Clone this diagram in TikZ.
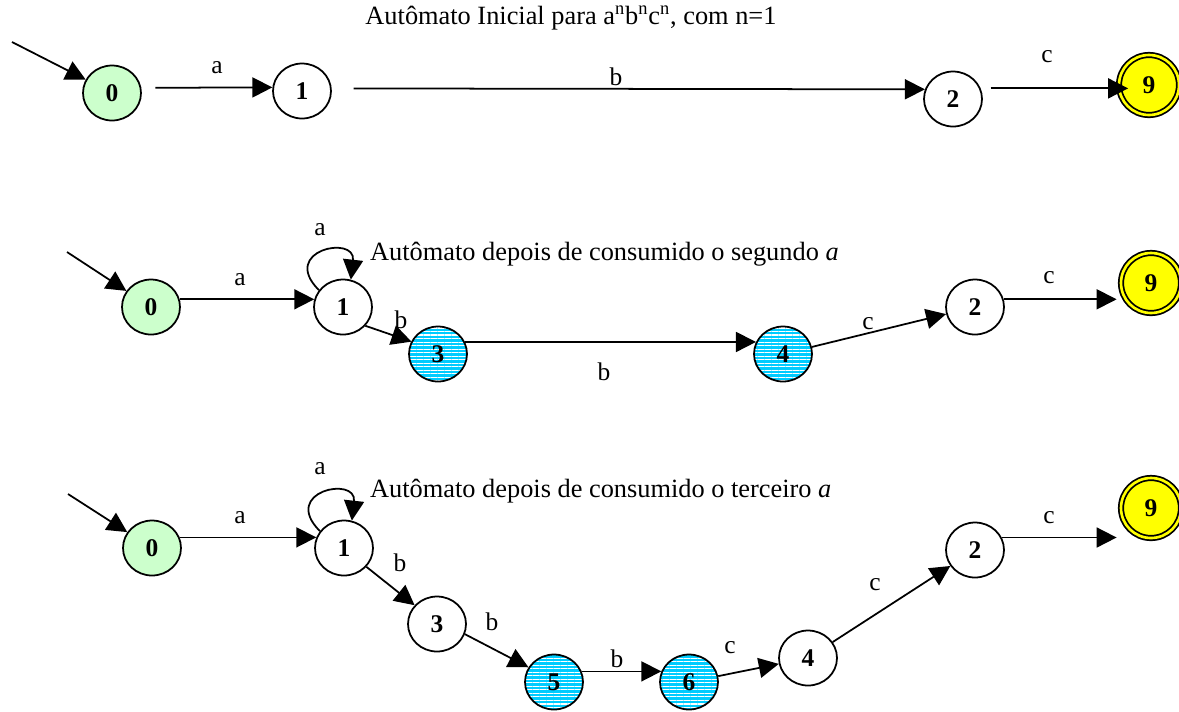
\documentclass[tikz,border=0pt]{standalone}
\usepackage{fontspec}
\setmainfont{Liberation Serif}
\usetikzlibrary{arrows.meta,shapes.geometric,patterns.meta}
\definecolor{stgreen}{HTML}{CCFFCC}
\definecolor{stcyan}{HTML}{00CCFF}
\definecolor{styellow}{HTML}{FFFF00}

\tikzset{
  stnode/.style={ellipse, draw, line width=1pt, minimum width=1.16cm,
    minimum height=1.1cm, inner sep=0pt, font=\fontsize{14.5}{17}\selectfont\bfseries},
  ststart/.style={stnode, fill=stgreen},
  stnew/.style={stnode, preaction={fill=stcyan},
    pattern={Lines[angle=0,distance=2pt,line width=0.6pt]}, pattern color=white},
  stfinal/.style={stnode, circle, minimum size=1.2cm, fill=styellow,
    double=styellow, double distance=1.5pt},
  lbl/.style={font=\fontsize{14.5}{17}\selectfont},
  ttl/.style={font=\fontsize{15}{18}\selectfont},
  tr/.style={->, line width=1pt},
}

\begin{document}
\begin{tikzpicture}[x=0.02cm, y=-0.02cm, >={Triangle[length=0.4cm,width=0.4cm]}]
\useasboundingbox (0,0) rectangle (1179,711);

% first automaton
\node[ttl, anchor=base] (t1) at (571,24) {Autômato Inicial para a\textsuperscript{n}b\textsuperscript{n}c\textsuperscript{n}, com n=1};
\coordinate (r1in) at (12,42);
\node[ststart] (r1s0) at (112,93) {0};
\node[stnode]  (r1s1) at (302,91) {1};
\node[stnode]  (r1s2) at (953,99) {2};
\node[stfinal] (r1s9) at (1149,85) {9};

\node[lbl] (r1a) at (217,68) {a};
\node[lbl] (r1b) at (616,77) {b};
\node[lbl] (r1c) at (1047,57) {c};

\draw[tr] (r1in) -- (r1s0);
\draw[tr, shorten <=0.28cm] (r1s0.10) -- (r1s1.173);
\draw[tr, shorten <=0.44cm] (r1s1.5) -- (r1s2.161);
\draw[tr, shorten <=0.2cm, shorten >=-0.2cm] (r1s2.21) -- (r1s2.21 -| r1s9.west);

% after the second a
\node[ttl, anchor=west] (t2) at (364,254) {Autômato depois de consumido o segundo \textit{a}};
\coordinate (r2in) at (67,252);
\node[ststart] (r2s0) at (151,307) {0};
\node[stnode]  (r2s1) at (343,307) {1};
\node[stnew]   (r2s3) at (438,354) {3};
\node[stnew]   (r2s4) at (783,354) {4};
\node[stnode]  (r2s2) at (975,307) {2};
\node[stfinal] (r2s9) at (1151,283) {9};

\node[lbl] (r2a)  at (240,280) {a};
\node[lbl] (r2aa) at (320,230) {a};
\node[lbl] (r2b)  at (401,320) {b};
\node[lbl] (r2bb) at (604,372) {b};
\node[lbl] (r2c)  at (868,324) {c};
\node[lbl] (r2cc) at (1049,278) {c};

\draw[tr] (r2in) -- (r2s0);
\draw[tr] (r2s0.15) -- (r2s1.165);
\draw[tr] (r2s1.145) .. controls +(-40,-40) and +(5,-45) .. (r2s1.74);
\draw[tr] (r2s1.-40) -- (r2s3.155);
\draw[tr] (r2s3.24) -- (r2s4.156);
\draw[tr] (r2s4) -- (r2s2);
\draw[tr, shorten >=2pt] (r2s2.15) -- (r2s2.15 -| r2s9.west);

% after the third a
\node[ttl, anchor=west] (t3) at (364,491) {Autômato depois de consumido o terceiro \textit{a}};
\coordinate (r3in) at (68,494);
\node[ststart] (r3s0) at (152,548) {0};
\node[stnode]  (r3s1) at (344,548) {1};
\node[stnode]  (r3s3) at (437,624) {3};
\node[stnew]   (r3s5) at (554,682) {5};
\node[stnew]   (r3s6) at (689,682) {6};
\node[stnode]  (r3s4) at (808,658) {4};
\node[stnode]  (r3s2) at (975,550) {2};
\node[stfinal] (r3s9) at (1151,508) {9};

\node[lbl] (r3a)  at (240,518) {a};
\node[lbl] (r3aa) at (320,469) {a};
\node[lbl] (r3b)  at (400,563) {b};
\node[lbl] (r3bb) at (492,622) {b};
\node[lbl] (r3bc) at (617,659) {b};
\node[lbl] (r3c)  at (730,648) {c};
\node[lbl] (r3cc) at (875,585) {c};
\node[lbl] (r3cd) at (1049,518) {c};

\draw[tr] (r3in) -- (r3s0);
\draw[tr] (r3s0.21) -- (r3s1.159);
\draw[tr] (r3s1.145) .. controls +(-40,-40) and +(5,-45) .. (r3s1.74);
\draw[tr] (r3s1.-40) -- (r3s3.140);
\draw[tr] (r3s3.-20) -- (r3s5.150);
\draw[tr] (r3s5.21) -- (r3s6.159);
\draw[tr] (r3s6) -- (r3s4);
\draw[tr] (r3s4) -- (r3s2);
\draw[tr, shorten >=2pt] (r3s2.25) -- (r3s2.25 -| r3s9.west);
\end{tikzpicture}
\end{document}
